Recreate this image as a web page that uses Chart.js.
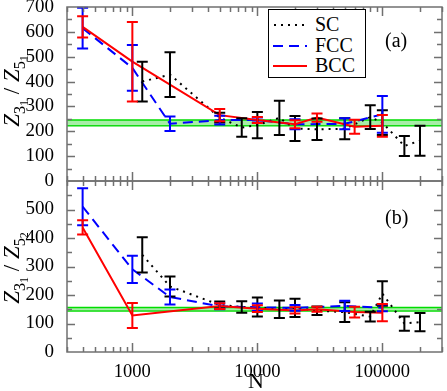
<!DOCTYPE html>
<html lang="en">
<head>
<meta charset="UTF-8">
<title>Z ratio vs N</title>
<script src="https://cdn.jsdelivr.net/npm/chart.js"></script>
<style>
  body { margin: 0; background: #fff; }
  #wrap { position: relative; width: 447px; height: 391px; font-family: "Liberation Serif", "DejaVu Serif", serif; color: #000; }
  #wrap canvas { position: absolute; left: 0; top: 0; }
  .ytitle { position: absolute; font-size: 23px; white-space: nowrap; transform: translate(-50%, -50%) rotate(-90deg); line-height: 1; }
  .ytitle sub { font-size: 70%; vertical-align: -0.35em; line-height: 0; }
  .ytitle sub sub { font-size: 75%; vertical-align: -0.3em; }
  .tag { position: absolute; font-size: 20px; line-height: 24px; }
  #legend { position: absolute; left: 268px; top: 9px; width: 96px; height: 67px; border: 1px solid #000; background: #fff; }
  #legend .row { position: absolute; left: 4px; height: 22px; font-size: 20px; line-height: 22px; }
  #legend svg { position: absolute; left: 0; top: 10px; }
  #legend span { position: absolute; left: 42px; top: 0; }
  #xtitle { position: absolute; left: 256px; top: 381px; transform: translate(-50%, -50%); font-size: 22px; }
</style>
</head>
<body>
<div id="wrap">
  <canvas id="chartA" width="447" height="391"></canvas>
  <canvas id="chartB" width="447" height="391"></canvas>
  <div class="ytitle" style="left:12px; top:91px;"><i>Z</i><sub>3<sub>1</sub></sub> / <i>Z</i><sub>5<sub>1</sub></sub></div>
  <div class="ytitle" style="left:12px; top:268px;"><i>Z</i><sub>3<sub>1</sub></sub> / <i>Z</i><sub>5<sub>2</sub></sub></div>
  <div class="tag" style="left:385px; top:28px;">(a)</div>
  <div class="tag" style="left:385px; top:205px;">(b)</div>
  <div id="xtitle">N</div>
  <div id="legend">
    <div class="row" style="top:3px;"><svg width="34" height="4"><line x1="1" y1="2" x2="34" y2="2" stroke="#000" stroke-width="2" stroke-dasharray="2 5"/></svg><span>SC</span></div>
    <div class="row" style="top:24px;"><svg width="34" height="4"><line x1="0" y1="2" x2="34" y2="2" stroke="#0000ff" stroke-width="2" stroke-dasharray="10 6"/></svg><span>FCC</span></div>
    <div class="row" style="top:44px;"><svg width="34" height="4"><line x1="0" y1="2" x2="34" y2="2" stroke="#ff0000" stroke-width="2"/></svg><span>BCC</span></div>
  </div>
</div>
<script>
// x tick labels and axis range
const xLabels = [1000, 10000, 100000];
const yLabelsA = [0, 100, 200, 300, 400, 500, 600, 700];
const yLabelsB = [0, 100, 200, 300, 400, 500];

// panel (a): Z31 / Z51
const scN_a  = [1200, 2000, 5000, 7500, 10000, 15000, 20000, 30000, 50000, 80000, 100000, 150000, 200000];
const scY_a  = [400, 428, 255, 215, 225, 254, 211, 208, 210, 257, 235, 141, 162];
const scE_a  = [80, 90, 20, 37, 53, 69, 50, 43, 42, 48, 50, 40, 60];
const fccN_a = [400, 1000, 2000, 5000, 10000, 20000, 50000, 100000];
const fccY_a = [615, 455, 230, 245, 245, 228, 230, 268];
const fccE_a = [82, 92, 29, 18, 10, 20, 22, 74];
const bccN_a = [400, 1000, 5000, 10000, 20000, 30000, 60000, 100000];
const bccY_a = [620, 480, 265, 245, 228, 255, 218, 222];
const bccE_a = [43, 160, 25, 12, 16, 17, 28, 44];
const bandA  = [222, 245];

// panel (b): Z31 / Z52
const scN_b  = [1200, 2000, 5000, 7500, 10000, 15000, 20000, 30000, 50000, 80000, 100000, 150000, 200000];
const scY_b  = [341, 230, 165, 158, 158, 150, 155, 145, 140, 124, 205, 100, 105];
const scE_b  = [62, 35, 12, 20, 33, 31, 32, 15, 35, 17, 43, 25, 32];
const fccN_b = [400, 1000, 2000, 5000, 10000, 20000, 50000, 100000];
const fccY_b = [510, 290, 193, 160, 157, 155, 162, 155];
const fccE_b = [65, 48, 26, 10, 13, 10, 18, 12];
const bccN_b = [400, 1000, 5000, 10000, 20000, 30000, 60000, 100000];
const bccY_b = [437, 128, 161, 152, 146, 150, 140, 138];
const bccE_b = [25, 44, 10, 12, 11, 9, 19, 30];
const bandB  = [144, 156];

const bandX = [300, 300000];

Chart.defaults.font.family = '"Liberation Serif", "DejaVu Serif", serif';
Chart.defaults.color = '#000';

const pts = (xs, ys) => xs.map((x, i) => ({x: x, y: ys[i]}));

// error bars + frame with inward ticks
const decor = {
  id: 'decor',
  afterDatasetsDraw(chart) {
    const ctx = chart.ctx, xs = chart.scales.x, ys = chart.scales.y;
    ctx.save();
    ctx.lineWidth = 2;
    chart.data.datasets.slice().reverse().forEach(ds => {
      if (!ds.errors) return;
      ctx.strokeStyle = ds.borderColor;
      ds.data.forEach((p, i) => {
        const e = ds.errors[i];
        const px = xs.getPixelForValue(p.x);
        const t = ys.getPixelForValue(p.y + e), b = ys.getPixelForValue(p.y - e);
        ctx.beginPath();
        ctx.moveTo(px, t); ctx.lineTo(px, b);
        ctx.moveTo(px - 5.5, t); ctx.lineTo(px + 5.5, t);
        ctx.moveTo(px - 5.5, b); ctx.lineTo(px + 5.5, b);
        ctx.stroke();
      });
    });
    ctx.restore();
  },
  afterDraw(chart) {
    const ctx = chart.ctx, a = chart.chartArea, xs = chart.scales.x, ys = chart.scales.y;
    ctx.save();
    ctx.strokeStyle = '#707070';
    ctx.lineWidth = 1.5;
    ctx.strokeRect(a.left, a.top, a.right - a.left, a.bottom - a.top);
    ctx.beginPath();
    for (let d = 100; d <= 100000; d *= 10) {
      for (let m = 1; m <= 9; m++) {
        const v = d * m;
        if (v < xs.min || v > xs.max) continue;
        const px = Math.round(xs.getPixelForValue(v)) + 0.5;
        const len = m === 1 ? 9 : 5;
        ctx.moveTo(px, a.bottom); ctx.lineTo(px, a.bottom - len);
        ctx.moveTo(px, a.top); ctx.lineTo(px, a.top + len);
      }
    }
    for (let v = ys.min + 50; v < ys.max; v += 50) {
      const py = Math.round(ys.getPixelForValue(v)) + 0.5;
      const len = v % 100 === 0 ? 8 : 5;
      ctx.moveTo(a.left, py); ctx.lineTo(a.left + len, py);
      ctx.moveTo(a.right, py); ctx.lineTo(a.right - len, py);
    }
    ctx.stroke();
    ctx.restore();
  }
};

function makeChart(id, sc, fcc, bcc, band, yMax, yLabels, pad, showX) {
  return new Chart(document.getElementById(id), {
    type: 'line',
    data: {
      datasets: [
        { label: 'BCC', data: pts(bcc[0], bcc[1]), errors: bcc[2], borderColor: '#ff0000', borderWidth: 2, pointRadius: 0, fill: false },
        { label: 'FCC', data: pts(fcc[0], fcc[1]), errors: fcc[2], borderColor: '#0000ff', borderWidth: 2, borderDash: [10, 6], pointRadius: 0, fill: false },
        { label: 'SC', data: pts(sc[0], sc[1]), errors: sc[2], borderColor: '#000000', borderWidth: 2, borderDash: [2, 5], pointRadius: 0, fill: false },
        { label: 'hi', data: pts(bandX, [band[1], band[1]]), borderColor: '#00dd00', borderWidth: 1.5, pointRadius: 0, fill: '+1', backgroundColor: 'rgba(60,215,60,0.45)' },
        { label: 'lo', data: pts(bandX, [band[0], band[0]]), borderColor: '#00dd00', borderWidth: 1.5, pointRadius: 0, fill: false }
      ]
    },
    options: {
      responsive: false,
      animation: false,
      devicePixelRatio: 1,
      layout: { padding: pad },
      plugins: { legend: { display: false }, tooltip: { enabled: false } },
      scales: {
        x: {
          type: 'logarithmic', min: 300, max: 300000, display: showX,
          grid: { display: false }, border: { display: false },
          afterBuildTicks: s => { s.ticks = xLabels.map(v => ({value: v})); },
          ticks: { font: { size: 18.5 }, padding: 1, maxRotation: 0, autoSkip: false, callback: v => String(v) },
          afterFit: s => { if (showX) s.height = 39; s.paddingLeft = 0; s.paddingRight = 0; }
        },
        y: {
          type: 'linear', min: 0, max: yMax,
          grid: { display: false }, border: { display: false },
          afterBuildTicks: s => { s.ticks = yLabels.map(v => ({value: v})); },
          ticks: { font: { size: 19 }, padding: 5, autoSkip: false, callback: v => String(v) },
          afterFit: s => { s.width = 67; s.paddingTop = 0; s.paddingBottom = 0; }
        }
      }
    },
    plugins: [decor]
  });
}

makeChart('chartA', [scN_a, scY_a, scE_a], [fccN_a, fccY_a, fccE_a], [bccN_a, bccY_a, bccE_a], bandA,
  700, yLabelsA, { top: 7, bottom: 210, left: 0, right: 5 }, false);
makeChart('chartB', [scN_b, scY_b, scE_b], [fccN_b, fccY_b, fccE_b], [bccN_b, bccY_b, bccE_b], bandB,
  600, yLabelsB, { top: 181, bottom: 0, left: 0, right: 5 }, true);
</script>
</body>
</html>
